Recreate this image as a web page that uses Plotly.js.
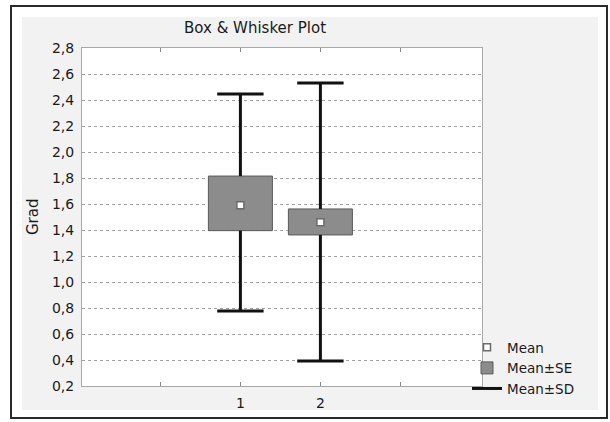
<!DOCTYPE html>
<html>
<head>
<meta charset="utf-8">
<script src="https://cdn.plot.ly/plotly-3.0.1.min.js"></script>
<style>
  html, body { margin: 0; padding: 0; background: #ffffff; }
  #wrap { position: relative; width: 610px; height: 422px; overflow: hidden; }
  #frame { position: absolute; left: 10px; top: 5px; width: 594px; height: 410px; border: 2px solid #2a2a2a; }
  #panel { position: absolute; left: 22px; top: 17px; width: 576px; height: 393px; background: #f2f2f2; }
  #chart { position: absolute; left: 0; top: 0; width: 610px; height: 422px; }
</style>
</head>
<body>
<div id="wrap">
  <div id="frame"></div>
  <div id="panel"></div>
  <div id="chart"></div>
</div>
<script>
// ---- data ----
const groups   = [1, 2];
const means    = [1.59, 1.46];
const seLow    = [1.395, 1.362];
const seHigh   = [1.815, 1.562];
const sdLow    = [0.777, 0.392];
const sdHigh   = [2.446, 2.531];
const xTickVals  = [0, 1, 2, 3];
const xTickText  = ['', '1', '2', ''];
const yTickVals  = [0.2, 0.4, 0.6, 0.8, 1.0, 1.2, 1.4, 1.6, 1.8, 2.0, 2.2, 2.4, 2.6, 2.8];

// ---- build traces ----
const capHalf = 0.29;
const wx = [], wy = [];
groups.forEach((g, i) => {
  wx.push(g, g, null);        wy.push(seHigh[i], sdHigh[i], null);
  wx.push(g, g, null);        wy.push(seLow[i], sdLow[i], null);
  wx.push(g - capHalf, g + capHalf, null); wy.push(sdHigh[i], sdHigh[i], null);
  wx.push(g - capHalf, g + capHalf, null); wy.push(sdLow[i], sdLow[i], null);
});

const traces = [
  {
    type: 'scatter', mode: 'lines', name: 'Mean±SD', legendrank: 3,
    x: wx, y: wy, connectgaps: false,
    line: { color: '#111111', width: 3 },
    hoverinfo: 'skip'
  },
  {
    type: 'bar', name: 'Mean±SE', legendrank: 2,
    x: groups,
    base: seLow,
    y: groups.map((g, i) => seHigh[i] - seLow[i]),
    width: 0.8,
    marker: { color: '#8c8c8c', line: { color: '#5a5a5a', width: 1 } }
  },
  {
    type: 'scatter', mode: 'markers', name: 'Mean', legendrank: 1,
    x: groups, y: means,
    marker: { symbol: 'square', size: 7, color: '#ffffff', line: { color: '#6a6a6a', width: 1.5 } }
  }
];

const fontFam = '"DejaVu Sans", "Liberation Sans", Arial, sans-serif';
const txt = '#1a1a1a';

const layout = {
  width: 610, height: 422,
  margin: { l: 82, r: 128, t: 48, b: 36 },
  paper_bgcolor: 'rgba(0,0,0,0)',
  plot_bgcolor: '#ffffff',
  separators: ',.',
  font: { family: fontFam, size: 13, color: txt },
  showlegend: true,
  barmode: 'overlay',
  title: {
    text: 'Box & Whisker Plot',
    font: { family: fontFam, size: 15, color: txt },
    xref: 'paper', x: 0.4325, xanchor: 'center',
    yref: 'container', y: 1 - 28 / 422, yanchor: 'middle'
  },
  xaxis: {
    range: [-0.98, 4.02],
    tickmode: 'array', tickvals: xTickVals, ticktext: xTickText,
    ticks: 'inside', ticklen: 4, tickcolor: '#888888', tickwidth: 1,
    showgrid: false, zeroline: false,
    showline: true, linecolor: '#a8a8a8', linewidth: 1, mirror: 'allticks',
    tickfont: { family: fontFam, size: 14, color: txt },
    ticklabelstandoff: 4,
    fixedrange: true
  },
  yaxis: {
    range: [0.2, 2.8],
    tickmode: 'array', tickvals: yTickVals, tickformat: '.1f',
    ticks: '', showgrid: true, gridcolor: '#a0a0a0', gridwidth: 1, griddash: 'dot',
    zeroline: false,
    showline: true, linecolor: '#a8a8a8', linewidth: 1, mirror: true,
    tickfont: { family: fontFam, size: 14, color: txt },
    ticklabelstandoff: 4,
    fixedrange: true
  },
  legend: {
    x: 0.9625, xanchor: 'left', y: 0.053, yanchor: 'middle',
    bgcolor: 'rgba(0,0,0,0)', borderwidth: 0,
    font: { family: fontFam, size: 13.5, color: txt },
    traceorder: 'normal', itemwidth: 30, tracegroupgap: 0
  },
  annotations: [
    {
      text: 'Grad', xref: 'paper', yref: 'paper', x: -0.1225, y: 0.5,
      xanchor: 'center', yanchor: 'middle', textangle: -90, showarrow: false,
      font: { family: fontFam, size: 15, color: txt }
    }
  ]
};

Plotly.newPlot('chart', traces, layout, { displayModeBar: false, staticPlot: true });
</script>
</body>
</html>
